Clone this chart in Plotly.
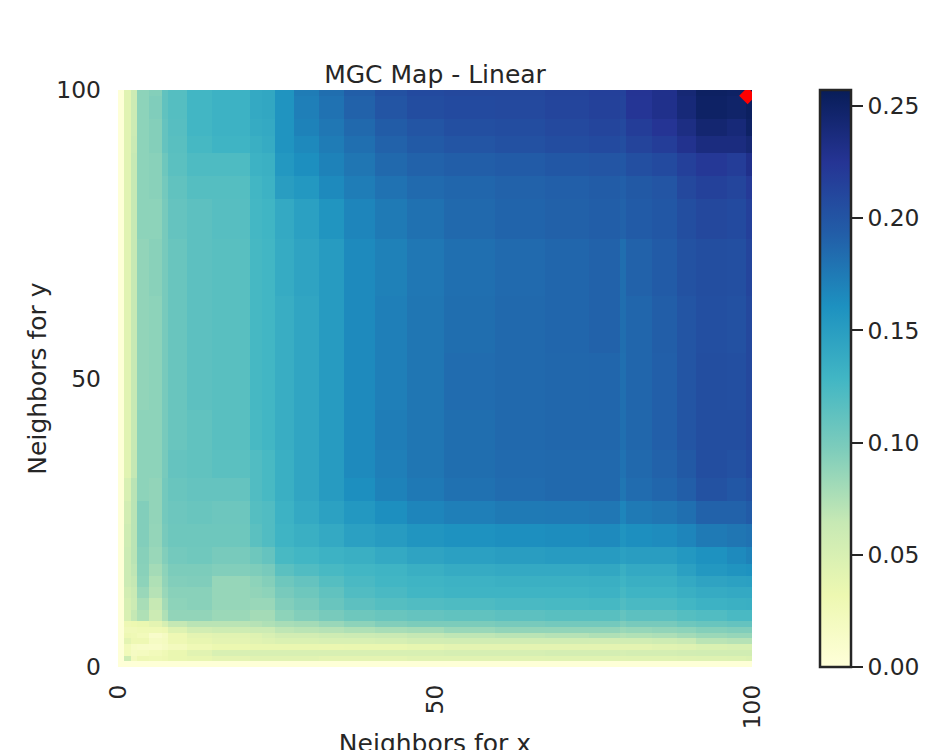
"""
MGC Map heatmap
Test statistic for each pair of neighbor counts
"""

import plotly.graph_objects as go

x_edges = [0, 1, 2, 3, 5, 7, 8, 11, 15, 21, 23, 25, 28, 32, 36, 41, 46, 52, 60, 68,
           75, 80, 81, 85, 89, 92, 97, 100, 101]
y_edges = [0, 1, 2, 3, 4, 5, 6, 7, 8, 10, 12, 14, 16, 18, 21, 25, 29, 33, 38, 45,
           55, 65, 75, 82, 86, 90, 93, 96, 100, 101]

# one row per y block, bottom row first
mgc_map = [
    [.002, .002, .002, .002, .002, .002, .002, .002, .002, .002, .002, .002, .002, .002, .002, .002, .002, .002, .002, .002, .002, .002, .002, .002, .002, .002, .002, .002],
    [.002, .058, .022, .03, .028, .03, .035, .036, .04, .042, .042, .042, .042, .04, .04, .04, .042, .042, .042, .043, .043, .042, .043, .043, .044, .045, .046, .047],
    [.002, .025, .018, .02, .024, .028, .035, .042, .05, .05, .05, .05, .05, .05, .05, .05, .05, .052, .052, .053, .053, .052, .053, .053, .055, .056, .056, .056],
    [.002, .024, .016, .014, .013, .017, .022, .028, .033, .035, .035, .035, .035, .034, .035, .035, .037, .04, .04, .04, .04, .04, .04, .042, .044, .048, .05, .05],
    [.002, .04, .03, .03, .018, .02, .03, .036, .04, .042, .045, .048, .048, .05, .05, .052, .055, .056, .056, .056, .055, .056, .056, .058, .062, .07, .072, .072],
    [.002, .03, .028, .024, .012, .018, .03, .04, .042, .045, .05, .055, .055, .058, .06, .062, .065, .068, .07, .072, .075, .072, .074, .076, .08, .084, .086, .086],
    [.002, .026, .026, .028, .028, .03, .045, .055, .058, .06, .06, .068, .07, .072, .075, .078, .08, .085, .088, .088, .088, .084, .086, .088, .09, .094, .096, .096],
    [.002, .03, .032, .035, .04, .052, .065, .07, .07, .072, .075, .078, .08, .085, .09, .095, .098, .098, .1, .102, .102, .096, .1, .1, .105, .108, .11, .11],
    [.002, .05, .065, .075, .06, .075, .088, .088, .084, .08, .08, .09, .095, .1, .105, .108, .11, .112, .114, .116, .116, .11, .114, .114, .118, .12, .124, .124],
    [.002, .052, .06, .078, .064, .08, .09, .092, .086, .085, .085, .095, .1, .108, .114, .118, .12, .122, .124, .125, .126, .12, .124, .124, .128, .132, .134, .135],
    [.002, .055, .062, .085, .072, .085, .092, .092, .086, .088, .09, .1, .105, .112, .12, .124, .128, .13, .13, .13, .132, .126, .13, .13, .135, .138, .14, .14],
    [.002, .06, .065, .09, .075, .088, .095, .096, .086, .09, .094, .105, .11, .118, .124, .128, .13, .132, .134, .134, .135, .13, .135, .135, .14, .145, .147, .148],
    [.002, .06, .068, .092, .08, .09, .098, .098, .095, .097, .1, .115, .12, .125, .128, .13, .135, .138, .14, .14, .142, .135, .14, .14, .148, .155, .158, .16],
    [.002, .06, .07, .093, .085, .095, .102, .104, .1, .105, .11, .125, .128, .132, .135, .14, .145, .148, .15, .152, .152, .148, .15, .15, .155, .16, .165, .17],
    [.002, .058, .07, .095, .087, .1, .105, .105, .105, .115, .12, .13, .135, .14, .148, .152, .157, .16, .162, .163, .165, .158, .162, .164, .168, .175, .178, .18],
    [.002, .055, .07, .095, .088, .102, .106, .108, .106, .118, .12, .132, .14, .147, .155, .162, .168, .172, .175, .176, .177, .168, .175, .178, .182, .19, .19, .195],
    [.002, .05, .07, .09, .088, .102, .108, .11, .11, .12, .125, .135, .143, .152, .162, .17, .176, .181, .184, .186, .186, .178, .184, .188, .193, .202, .198, .203],
    [.002, .042, .065, .09, .09, .1, .11, .112, .115, .12, .125, .135, .143, .152, .165, .172, .178, .183, .185, .186, .186, .18, .186, .19, .197, .205, .203, .208],
    [.002, .042, .064, .09, .09, .1, .108, .112, .116, .125, .128, .136, .143, .152, .165, .173, .178, .183, .186, .187, .187, .182, .187, .192, .2, .205, .205, .21],
    [.002, .042, .064, .088, .09, .1, .108, .114, .116, .126, .128, .136, .143, .152, .165, .172, .178, .184, .186, .187, .188, .182, .188, .192, .2, .205, .204, .21],
    [.002, .042, .064, .088, .09, .1, .108, .114, .116, .126, .128, .136, .143, .152, .165, .172, .178, .183, .186, .188, .19, .183, .188, .193, .2, .204, .203, .21],
    [.002, .042, .064, .088, .092, .1, .108, .114, .116, .126, .128, .138, .145, .152, .165, .171, .177, .182, .185, .188, .19, .183, .19, .195, .202, .205, .204, .212],
    [.002, .042, .064, .09, .09, .1, .11, .114, .117, .127, .129, .14, .148, .157, .168, .175, .181, .186, .189, .191, .193, .19, .195, .198, .205, .21, .208, .216],
    [.002, .042, .064, .09, .092, .102, .112, .118, .118, .128, .132, .15, .155, .165, .173, .18, .185, .188, .19, .192, .194, .192, .197, .2, .21, .215, .212, .22],
    [.002, .042, .064, .09, .092, .105, .115, .122, .122, .132, .134, .155, .162, .17, .178, .186, .19, .193, .195, .198, .2, .198, .204, .208, .216, .222, .218, .23],
    [.002, .042, .062, .09, .094, .11, .116, .126, .13, .135, .138, .158, .166, .174, .182, .19, .196, .2, .203, .206, .208, .205, .213, .218, .228, .236, .236, .242],
    [.002, .042, .06, .09, .094, .11, .117, .128, .132, .138, .14, .158, .17, .177, .186, .194, .2, .204, .206, .209, .212, .209, .218, .225, .234, .244, .24, .25],
    [.002, .042, .06, .09, .096, .112, .118, .128, .132, .14, .142, .158, .172, .18, .19, .2, .206, .208, .209, .212, .215, .213, .224, .23, .24, .25, .248, .253],
    [.002, .042, .06, .09, .094, .112, .118, .128, .132, .14, .142, .158, .174, .183, .193, .203, .208, .21, .21, .213, .216, .214, .225, .23, .242, .252, .25, .2571],
]

optimal_scale = [100.3, 100]

tick_vals = [0, 50.5, 101]
tick_text = ["0", "50", "100"]
cbar_ticks = [0, 0.05, 0.10, 0.15, 0.20, 0.25]

ylgnbu = [
    [0.0, "#ffffd9"], [0.125, "#edf8b1"], [0.25, "#c7e9b4"],
    [0.375, "#7fcdbb"], [0.5, "#41b6c4"], [0.625, "#1d91c0"],
    [0.75, "#225ea8"], [0.875, "#253494"], [1.0, "#081d58"],
]

ink = "#262626"

fig = go.Figure()

fig.add_trace(go.Heatmap(
    x=x_edges,
    y=y_edges,
    z=mgc_map,
    zmin=0,
    zmax=0.2571,
    colorscale=ylgnbu,
    colorbar=dict(
        x=1.1075,
        xanchor="left",
        y=0,
        yanchor="bottom",
        lenmode="pixels",
        len=577,
        thickness=31,
        xpad=0,
        ypad=0,
        outlinecolor=ink,
        outlinewidth=2.5,
        ticks="outside",
        ticklen=11,
        tickwidth=2,
        tickcolor=ink,
        tickvals=cbar_ticks,
        tickformat=".2f",
        tickfont=dict(size=23.4, color=ink),
    ),
))

# the best scale, marked in red
fig.add_trace(go.Scatter(
    x=[optimal_scale[0]],
    y=[optimal_scale[1]],
    mode="markers",
    marker=dict(symbol="diamond", color="red", size=13),
    showlegend=False,
))

# taller than the window, the x title runs off the bottom as in the reference
fig.update_layout(
    width=936,
    height=760,
    margin=dict(l=110, r=192, t=82, b=101),
    paper_bgcolor="white",
    plot_bgcolor="white",
    font=dict(family="DejaVu Sans", color=ink),
    title=dict(
        text="MGC Map - Linear",
        font=dict(size=25, color=ink),
        x=0.5,
        xref="paper",
        xanchor="center",
        y=0.9132,
        yref="container",
        yanchor="middle",
    ),
    xaxis=dict(
        range=[0, 101],
        tickmode="array",
        tickvals=tick_vals,
        ticktext=tick_text,
        tickangle=-90,
        tickfont=dict(size=23.4, color=ink),
        ticklabelstandoff=12,
        ticks="",
        showgrid=False,
        zeroline=False,
        title=dict(text="Neighbors for x", font=dict(size=25, color=ink), standoff=6),
        automargin=False,
    ),
    yaxis=dict(
        range=[0, 101],
        tickmode="array",
        tickvals=tick_vals,
        ticktext=tick_text,
        tickfont=dict(size=23.4, color=ink),
        ticklabelstandoff=16,
        ticks="",
        showgrid=False,
        zeroline=False,
        title=dict(text="Neighbors for y", font=dict(size=25, color=ink), standoff=2),
        automargin=False,
    ),
)

fig.write_html("out.html", config={"displayModeBar": False})
